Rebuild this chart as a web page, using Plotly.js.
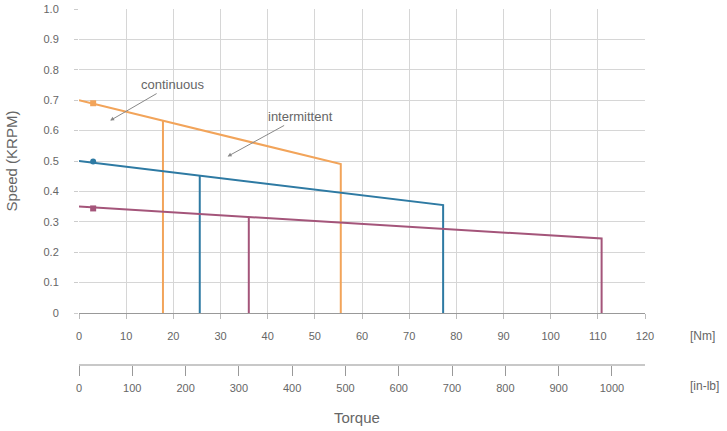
<!DOCTYPE html>
<html>
<head>
<meta charset="utf-8">
<script src="https://cdn.plot.ly/plotly-3.0.1.min.js"></script>
<style>html,body{margin:0;padding:0;background:#fff;}#chart{width:727px;height:431px;}</style>
</head>
<body>
<div id="chart"></div>
<script>
// ---- data ----
const seriesColors = ['#f2a45a', '#2e7aa3', '#a4557a'];
const stallSpeed = [0.70, 0.50, 0.35];          // speed at zero torque (KRPM)
const intermittentTorque = [55.5, 77.2, 110.8]; // max intermittent torque (Nm)
const intermittentSpeed = [0.49, 0.355, 0.245]; // speed at max intermittent torque
const continuousTorque = [17.8, 25.6, 36.0];    // continuous torque limit (Nm)
const continuousSpeed = [0.633, 0.452, 0.314];  // speed at continuous torque limit
const markerTorque = [3, 3, 3];
const markerSpeed = [0.69, 0.498, 0.344];
const markerSymbols = ['square', 'circle', 'square'];

const nmTicks = [0, 10, 20, 30, 40, 50, 60, 70, 80, 90, 100, 110, 120];
const inlbTicks = [0, 100, 200, 300, 400, 500, 600, 700, 800, 900, 1000];
const speedTicks = [0, 0.1, 0.2, 0.3, 0.4, 0.5, 0.6, 0.7, 0.8, 0.9, 1.0];
const speedTickText = ['0', '0.1', '0.2', '0.3', '0.4', '0.5', '0.6', '0.7', '0.8', '0.9', '1.0'];
const NM_TO_INLB = 8.8507;

// ---- traces ----
const traces = [];
for (let i = 0; i < stallSpeed.length; i++) {
  traces.push({
    x: [0, intermittentTorque[i], intermittentTorque[i]],
    y: [stallSpeed[i], intermittentSpeed[i], 0],
    mode: 'lines', line: {color: seriesColors[i], width: 2}, hoverinfo: 'skip', showlegend: false
  });
  traces.push({
    x: [continuousTorque[i], continuousTorque[i]],
    y: [continuousSpeed[i], 0],
    mode: 'lines', line: {color: seriesColors[i], width: 2}, hoverinfo: 'skip', showlegend: false
  });
  traces.push({
    x: [markerTorque[i]], y: [markerSpeed[i]],
    mode: 'markers', marker: {color: seriesColors[i], size: 6, symbol: markerSymbols[i]},
    hoverinfo: 'skip', showlegend: false
  });
}
// invisible trace to activate secondary axis
traces.push({x: [0, 120 * NM_TO_INLB], y: [0, 0], xaxis: 'x2', mode: 'lines',
  line: {color: 'rgba(0,0,0,0)'}, hoverinfo: 'skip', showlegend: false});

const txt = '#666';
const fontFam = 'Liberation Sans, Arial, sans-serif';

const layout = {
  width: 727, height: 431,
  margin: {l: 79, r: 82, t: 9, b: 0},
  paper_bgcolor: '#fff', plot_bgcolor: '#fff',
  font: {family: fontFam, color: txt, size: 11},
  showlegend: false,
  xaxis: {
    range: [0, 120], tickvals: nmTicks, ticktext: nmTicks.map(String),
    showgrid: true, gridcolor: '#d6d6d6', gridwidth: 1,
    showline: true, linecolor: '#999', linewidth: 1,
    ticks: 'outside', ticklen: 5, tickcolor: '#bbb',
    ticklabelstandoff: 8, zeroline: false,
    tickfont: {size: 11, color: txt}
  },
  xaxis2: {
    range: [0, 120 * NM_TO_INLB], tickvals: inlbTicks, ticktext: inlbTicks.map(String),
    overlaying: 'x', side: 'bottom', anchor: 'free', position: 0.156,
    showgrid: false, zeroline: false,
    showline: true, linecolor: '#c8c8c8', linewidth: 2,
    ticks: 'outside', ticklen: 10, tickcolor: '#999',
    ticklabelstandoff: 3,
    tickfont: {size: 11, color: txt}
  },
  yaxis: {
    domain: [0.2796, 1], range: [0, 1.0],
    tickvals: speedTicks, ticktext: speedTickText,
    showgrid: true, gridcolor: '#d6d6d6', gridwidth: 1,
    zeroline: false, showline: false,
    ticks: 'outside', ticklen: 4, tickcolor: '#ccc',
    ticklabelstandoff: 13,
    tickfont: {size: 11, color: txt},
    title: {text: 'Speed (KRPM)', font: {size: 15, color: txt}, standoff: 22}
  },
  annotations: [
    {x: 6.6, y: 0.633, xref: 'x', yref: 'y', text: 'continuous', showarrow: true,
     ax: 62, ay: -36, arrowhead: 2, arrowsize: 0.8, arrowwidth: 1, arrowcolor: '#888',
     font: {size: 13, color: txt}},
    {x: 31.5, y: 0.515, xref: 'x', yref: 'y', text: 'intermittent', showarrow: true,
     ax: 73, ay: -40, arrowhead: 2, arrowsize: 0.8, arrowwidth: 1, arrowcolor: '#888',
     font: {size: 13, color: txt}},
    {x: 1.076, y: 0.225, xref: 'paper', yref: 'paper', xanchor: 'left', yanchor: 'middle',
     text: '[Nm]', showarrow: false, font: {size: 12, color: txt}},
    {x: 1.076, y: 0.107, xref: 'paper', yref: 'paper', xanchor: 'left', yanchor: 'middle',
     text: '[in-lb]', showarrow: false, font: {size: 12, color: txt}},
    {x: 0.491, y: 0.033, xref: 'paper', yref: 'paper', xanchor: 'center', yanchor: 'middle',
     text: 'Torque', showarrow: false, font: {size: 15, color: txt}}
  ]
};

Plotly.newPlot('chart', traces, layout, {displayModeBar: false, staticPlot: true});
</script>
</body>
</html>
